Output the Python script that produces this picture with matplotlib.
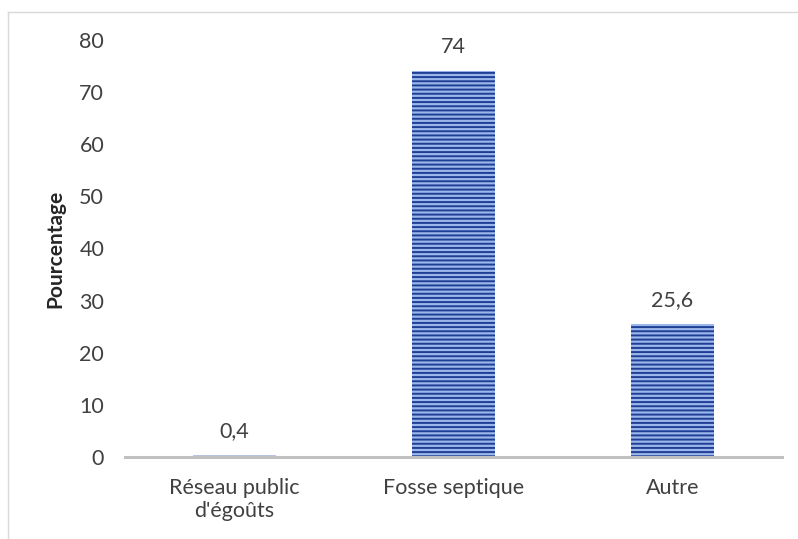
import matplotlib
matplotlib.use("Agg")
import matplotlib.pyplot as plt
from matplotlib.lines import Line2D

categories = ["Réseau public\nd'égoûts", "Fosse septique", "Autre"]
values = [0.4, 74, 25.6]
value_labels = ["0,4", "74", "25,6"]
yticks = [0, 10, 20, 30, 40, 50, 60, 70, 80]

plt.rcParams['font.family'] = ['Lato', 'DejaVu Sans']
plt.rcParams['hatch.linewidth'] = 1.4

fig = plt.figure(figsize=(7.98, 5.39), dpi=100)
ax = fig.add_axes([0.1566, 0.152, 0.8234, 0.774])

x = list(range(len(values)))
bars = ax.bar(x, values, width=0.38, color="#9ab6ea", edgecolor="#1f3f95",
              hatch="----", linewidth=0)
bars[0].set_facecolor("#b7c4e4")
bars[0].set_hatch(None)

for xi, v, lab in zip(x, values, value_labels):
    ax.annotate(lab, (xi, v), xytext=(0, 10), textcoords="offset points",
                ha="center", va="bottom", fontsize=15.5, color="#404040")

ax.set_xlim(-0.5, 2.5)
ax.set_ylim(0, 80)
ax.set_yticks(yticks)
ax.set_yticklabels([str(t) for t in yticks], fontsize=15.5, color="#404040")
ax.set_xticks(x)
ax.set_xticklabels(categories, fontsize=15.5, color="#404040")
ax.tick_params(axis="both", length=0)
ax.tick_params(axis="y", pad=15)
ax.tick_params(axis="x", pad=15)
for s in ["top", "right", "left"]:
    ax.spines[s].set_visible(False)
ax.spines["bottom"].set_color("#c0c0c0")
ax.spines["bottom"].set_linewidth(2.2)
ax.set_ylabel("Pourcentage", fontsize=15, fontweight="bold", color="#262626", labelpad=10)

# outer frame lines (left and top)
fig.add_artist(Line2D([8/798, 8/798], [0, 1 - 12/539], transform=fig.transFigure,
                      color="#d9d9d9", linewidth=1))
fig.add_artist(Line2D([8/798, 1], [1 - 12/539, 1 - 12/539], transform=fig.transFigure,
                      color="#d9d9d9", linewidth=1))

fig.savefig("out.png", dpi=100)
